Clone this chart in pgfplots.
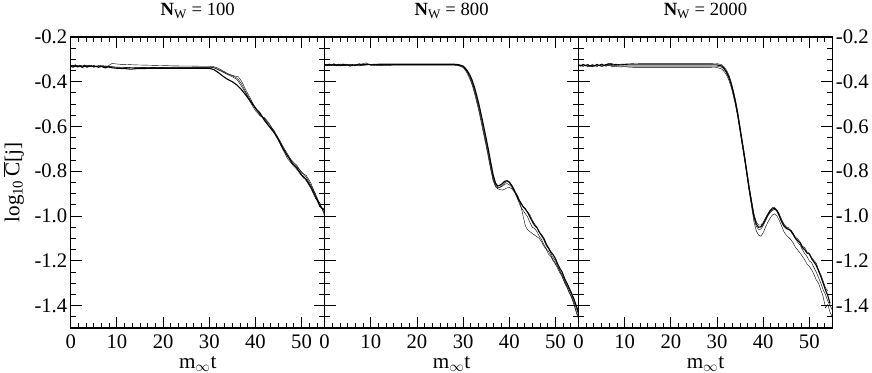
\documentclass[border=0pt]{standalone}
\usepackage{pgfplots}
\pgfplotsset{compat=1.18}
\usepackage{fontspec}
\setmainfont{Liberation Serif}

\pgfplotsset{
  panel/.style={
    scale only axis, width=252pt, height=289pt,
    xmin=0, xmax=55, ymin=-1.5, ymax=-0.2,
    xtick={0,10,20,30,40,50},
    xticklabels={0,10,20,30,40,50},
    minor xtick={1.6667,3.3333,5,6.6667,8.3333,11.6667,13.3333,15,16.6667,18.3333,21.6667,23.3333,25,26.6667,28.3333,31.6667,33.3333,35,36.6667,38.3333,41.6667,43.3333,45,46.6667,48.3333,51.6667,53.3333},
    ytick={-1.4,-1.2,-1.0,-0.8,-0.6,-0.4,-0.2},
    minor ytick={-1.45,-1.35,-1.3,-1.25,-1.15,-1.1,-1.05,-0.95,-0.9,-0.85,-0.75,-0.7,-0.65,-0.55,-0.5,-0.45,-0.35,-0.3,-0.25},
    tick align=inside, tick pos=both,
    major tick length=11pt, minor tick length=5.5pt,
    every tick/.style={black, line width=0.9pt},
    axis line style={line width=1.2pt},
    tick label style={font=\fontsize{20.5}{23}\selectfont},
    xticklabel style={inner sep=1pt, yshift=-5pt},
    label style={font=\fontsize{21}{23}\selectfont},
    every axis title/.style={font=\fontsize{18.5}{20}\selectfont, at={(0.5,1)}, anchor=base, yshift=21pt},
    xlabel={m$_{\infty}$t},
    xlabel style={at={(axis description cs:0.5,0)}, anchor=base, inner sep=1pt, yshift=-40pt},
    cycle list={{black, solid, line width=1.1pt, mark=none}},
  }
}

\begin{document}
\begin{tikzpicture}

% ---------------- N_W = 100 ----------------
\begin{axis}[panel, at={(0pt,0pt)},
  title={\textbf{N}\textsubscript{W} = 100},
  yticklabels={-1.4,-1.2,-1.0,-0.8,-0.6,-0.4,-0.2},
  ylabel={log\textsubscript{10}\,$\overline{\mbox{C}}$[j]},
  ylabel style={at={(axis description cs:-0.225,0.5)}, anchor=center},
]
\addplot coordinates {(0,-0.328)(0.5,-0.331)(1,-0.326)(1.5,-0.333)(2,-0.327)(2.5,-0.332)(3,-0.325)(3.5,-0.331)(4,-0.328)(4.5,-0.334)(5,-0.327)(5.5,-0.332)(6,-0.329)(6.5,-0.335)(7,-0.328)(7.5,-0.333)(8,-0.330)(9,-0.334)(10,-0.336)(11,-0.338)(12,-0.337)(14,-0.338)(16,-0.337)(18,-0.337)(20,-0.336)(22,-0.336)(24,-0.336)(26,-0.336)(28,-0.336)(30,-0.336)(31,-0.338)(32,-0.345)(33,-0.355)(34,-0.365)(35,-0.374)(35.7,-0.38)(36.3,-0.39)(37,-0.41)(38,-0.45)(39,-0.485)(40,-0.515)(41,-0.545)(42,-0.565)(43,-0.592)(44,-0.617)(45,-0.652)(46,-0.69)(47,-0.724)(48,-0.758)(49,-0.779)(50,-0.802)(51,-0.826)(52,-0.862)(53,-0.9)(54,-0.948)(55,-0.99)};
\addplot coordinates {(0,-0.330)(0.5,-0.327)(1,-0.333)(1.5,-0.328)(2,-0.334)(2.5,-0.329)(3,-0.332)(3.5,-0.327)(4,-0.333)(4.5,-0.329)(5,-0.335)(5.5,-0.330)(6,-0.334)(6.5,-0.328)(7,-0.333)(7.5,-0.329)(8,-0.331)(8.5,-0.324)(9,-0.318)(9.5,-0.320)(10,-0.321)(11,-0.323)(12,-0.323)(14,-0.325)(16,-0.326)(18,-0.327)(20,-0.328)(22,-0.329)(24,-0.330)(26,-0.330)(28,-0.331)(30,-0.331)(31,-0.333)(32,-0.340)(33,-0.352)(34,-0.364)(35,-0.372)(35.6,-0.375)(36.3,-0.378)(37,-0.398)(38,-0.44)(39,-0.478)(40,-0.52)(41,-0.553)(42,-0.561)(43,-0.586)(44,-0.622)(45,-0.656)(46,-0.694)(47,-0.733)(48,-0.754)(49,-0.774)(50,-0.808)(51,-0.818)(52,-0.852)(53,-0.905)(54,-0.955)(55,-0.985)};
\addplot coordinates {(0,-0.331)(0.5,-0.335)(1,-0.329)(1.5,-0.334)(2,-0.330)(2.5,-0.336)(3,-0.330)(3.5,-0.335)(4,-0.331)(4.5,-0.329)(5,-0.334)(5.5,-0.331)(6,-0.336)(6.5,-0.330)(7,-0.335)(7.5,-0.338)(8,-0.334)(9,-0.338)(10,-0.340)(11,-0.341)(12,-0.342)(13,-0.344)(14,-0.342)(16,-0.341)(18,-0.340)(20,-0.340)(22,-0.340)(24,-0.340)(26,-0.340)(28,-0.340)(30,-0.340)(31,-0.346)(32,-0.36)(33,-0.376)(34,-0.39)(35,-0.40)(36,-0.415)(37,-0.436)(38,-0.462)(39,-0.49)(40,-0.518)(41,-0.54)(42,-0.574)(43,-0.60)(44,-0.626)(45,-0.66)(46,-0.70)(47,-0.732)(48,-0.765)(49,-0.786)(50,-0.816)(51,-0.836)(52,-0.87)(53,-0.912)(54,-0.958)(55,-0.972)};
\addplot coordinates {(0,-0.326)(0.5,-0.329)(1,-0.324)(1.5,-0.330)(2,-0.326)(2.5,-0.331)(3,-0.327)(3.5,-0.333)(4,-0.326)(4.5,-0.331)(5,-0.328)(5.5,-0.334)(6,-0.327)(6.5,-0.332)(7,-0.329)(7.5,-0.335)(8,-0.331)(9,-0.333)(10,-0.335)(12,-0.336)(14,-0.337)(16,-0.337)(18,-0.336)(20,-0.336)(22,-0.335)(24,-0.335)(26,-0.335)(28,-0.335)(30,-0.335)(31,-0.337)(32,-0.348)(33,-0.358)(34,-0.368)(35,-0.378)(36,-0.39)(37,-0.42)(38,-0.455)(39,-0.495)(40,-0.53)(41,-0.55)(42,-0.568)(43,-0.60)(44,-0.62)(45,-0.662)(46,-0.705)(47,-0.745)(48,-0.77)(49,-0.792)(50,-0.82)(51,-0.842)(52,-0.876)(53,-0.92)(54,-0.942)(55,-1.0)};
\end{axis}

% ---------------- N_W = 800 ----------------
\begin{axis}[panel, at={(252pt,0pt)},
  title={\textbf{N}\textsubscript{W} = 800},
  yticklabels={},
]
\addplot coordinates {(0,-0.325)(0.5,-0.329)(1,-0.323)(1.5,-0.328)(2,-0.324)(2.5,-0.330)(3,-0.325)(3.5,-0.321)(4,-0.327)(4.5,-0.323)(5,-0.329)(5.5,-0.324)(6,-0.330)(6.5,-0.326)(7,-0.322)(7.5,-0.327)(8,-0.321)(8.5,-0.318)(9,-0.316)(9.5,-0.321)(10,-0.327)(11,-0.329)(12,-0.325)(13,-0.323)(14,-0.325)(16,-0.324)(18,-0.324)(20,-0.324)(22,-0.324)(24,-0.324)(26,-0.324)(28,-0.324)(29,-0.326)(30,-0.332)(30.5,-0.343)(31,-0.358)(31.5,-0.378)(32,-0.404)(32.5,-0.438)(33,-0.478)(33.5,-0.52)(34,-0.568)(34.5,-0.618)(35,-0.668)(35.5,-0.72)(36,-0.776)(36.5,-0.828)(37,-0.858)(37.5,-0.872)(38,-0.87)(38.5,-0.862)(39,-0.852)(39.5,-0.846)(40,-0.85)(40.5,-0.866)(41,-0.886)(41.5,-0.91)(42,-0.93)(42.5,-0.945)(43,-0.96)(43.5,-0.972)(44,-0.982)(44.5,-0.995)(45,-1.018)(45.5,-1.035)(46,-1.05)(46.5,-1.07)(47,-1.09)(47.5,-1.108)(48,-1.132)(48.5,-1.145)(49,-1.165)(49.5,-1.185)(50,-1.2)(50.5,-1.222)(51,-1.248)(51.5,-1.262)(52,-1.288)(52.5,-1.31)(53,-1.33)(53.5,-1.352)(54,-1.382)(54.5,-1.41)(55,-1.44)};
\addplot coordinates {(0,-0.327)(0.5,-0.322)(1,-0.328)(1.5,-0.324)(2,-0.329)(2.5,-0.323)(3,-0.328)(3.5,-0.325)(4,-0.330)(4.5,-0.326)(5,-0.322)(5.5,-0.327)(6,-0.323)(6.5,-0.329)(7,-0.325)(7.5,-0.330)(8,-0.326)(9,-0.323)(10,-0.325)(11,-0.326)(12,-0.327)(14,-0.327)(16,-0.326)(18,-0.326)(20,-0.326)(22,-0.326)(24,-0.326)(26,-0.326)(28,-0.326)(29,-0.329)(30,-0.337)(30.5,-0.35)(31,-0.367)(31.5,-0.39)(32,-0.418)(32.5,-0.455)(33,-0.497)(33.5,-0.54)(34,-0.59)(34.5,-0.64)(35,-0.69)(35.5,-0.742)(36,-0.795)(36.5,-0.842)(37,-0.868)(37.5,-0.878)(38,-0.882)(38.5,-0.884)(39,-0.88)(39.5,-0.874)(40,-0.872)(40.5,-0.878)(41,-0.89)(41.5,-0.9)(42,-0.915)(42.5,-0.955)(43,-1.0)(43.5,-1.045)(44,-1.062)(44.5,-1.07)(45,-1.078)(45.5,-1.085)(46,-1.092)(46.5,-1.1)(47,-1.115)(47.5,-1.135)(48,-1.148)(48.5,-1.17)(49,-1.18)(49.5,-1.2)(50,-1.215)(50.5,-1.235)(51,-1.255)(51.5,-1.27)(52,-1.3)(52.5,-1.32)(53,-1.34)(53.5,-1.365)(54,-1.39)(54.5,-1.43)(55,-1.46)};
\addplot coordinates {(0,-0.323)(0.5,-0.327)(1,-0.322)(1.5,-0.326)(2,-0.321)(2.5,-0.327)(3,-0.323)(3.5,-0.328)(4,-0.322)(4.5,-0.327)(5,-0.325)(5.5,-0.330)(6,-0.324)(6.5,-0.328)(7,-0.324)(7.5,-0.321)(8,-0.325)(9,-0.322)(10,-0.324)(11,-0.323)(12,-0.322)(14,-0.322)(16,-0.322)(18,-0.322)(20,-0.322)(22,-0.322)(24,-0.322)(26,-0.322)(28,-0.322)(29,-0.324)(30,-0.330)(30.5,-0.34)(31,-0.354)(31.5,-0.372)(32,-0.396)(32.5,-0.428)(33,-0.466)(33.5,-0.508)(34,-0.555)(34.5,-0.604)(35,-0.654)(35.5,-0.706)(36,-0.762)(36.5,-0.815)(37,-0.852)(37.5,-0.866)(38,-0.862)(38.5,-0.855)(39,-0.845)(39.5,-0.842)(40,-0.848)(40.5,-0.862)(41,-0.88)(41.5,-0.902)(42,-0.925)(42.5,-0.94)(43,-0.958)(43.5,-0.968)(44,-0.985)(44.5,-1.005)(45,-1.025)(45.5,-1.042)(46,-1.052)(46.5,-1.072)(47,-1.085)(47.5,-1.1)(48,-1.125)(48.5,-1.142)(49,-1.16)(49.5,-1.172)(50,-1.19)(50.5,-1.215)(51,-1.235)(51.5,-1.252)(52,-1.28)(52.5,-1.3)(53,-1.322)(53.5,-1.345)(54,-1.37)(54.5,-1.4)(55,-1.43)};
\addplot coordinates {(0,-0.326)(0.5,-0.324)(1,-0.329)(1.5,-0.323)(2,-0.327)(2.5,-0.325)(3,-0.330)(3.5,-0.324)(4,-0.328)(4.5,-0.321)(5,-0.326)(5.5,-0.322)(6,-0.328)(6.5,-0.323)(7,-0.327)(7.5,-0.324)(8,-0.328)(9,-0.326)(10,-0.322)(11,-0.324)(12,-0.326)(14,-0.325)(16,-0.325)(18,-0.325)(20,-0.325)(22,-0.325)(24,-0.325)(26,-0.325)(28,-0.325)(29,-0.327)(30,-0.334)(30.5,-0.346)(31,-0.362)(31.5,-0.384)(32,-0.411)(32.5,-0.447)(33,-0.488)(33.5,-0.53)(34,-0.58)(34.5,-0.63)(35,-0.68)(35.5,-0.732)(36,-0.788)(36.5,-0.836)(37,-0.865)(37.5,-0.875)(38,-0.872)(38.5,-0.866)(39,-0.858)(39.5,-0.855)(40,-0.86)(40.5,-0.87)(41,-0.885)(41.5,-0.905)(42,-0.935)(42.5,-0.96)(43,-0.975)(43.5,-0.99)(44,-1.005)(44.5,-1.03)(45,-1.05)(45.5,-1.055)(46,-1.07)(46.5,-1.09)(47,-1.105)(47.5,-1.128)(48,-1.145)(48.5,-1.158)(49,-1.175)(49.5,-1.195)(50,-1.21)(50.5,-1.228)(51,-1.245)(51.5,-1.275)(52,-1.295)(52.5,-1.315)(53,-1.345)(53.5,-1.36)(54,-1.395)(54.5,-1.425)(55,-1.45)};
\end{axis}

% ---------------- N_W = 2000 ----------------
\begin{axis}[panel, at={(504pt,0pt)},
  title={\textbf{N}\textsubscript{W} = 2000},
  yticklabel pos=right,
  yticklabels={-1.4,-1.2,-1.0,-0.8,-0.6,-0.4,-0.2},
]
\addplot coordinates {(0,-0.327)(0.5,-0.331)(1,-0.325)(1.5,-0.330)(2,-0.326)(2.5,-0.332)(3,-0.327)(3.5,-0.331)(4,-0.325)(4.5,-0.329)(5,-0.324)(5.5,-0.328)(6,-0.322)(6.5,-0.325)(7,-0.318)(7.5,-0.321)(8,-0.324)(9,-0.322)(10,-0.321)(11,-0.320)(12,-0.319)(14,-0.318)(16,-0.318)(18,-0.318)(20,-0.318)(22,-0.318)(24,-0.318)(26,-0.318)(28,-0.318)(30,-0.319)(31,-0.324)(31.5,-0.333)(32,-0.346)(32.5,-0.366)(33,-0.395)(33.5,-0.435)(34,-0.48)(34.5,-0.535)(35,-0.6)(35.5,-0.665)(36,-0.73)(36.5,-0.8)(37,-0.87)(37.5,-0.93)(38,-0.99)(38.5,-1.025)(39,-1.04)(39.5,-1.04)(40,-1.028)(40.5,-1.008)(41,-0.99)(41.5,-0.972)(42,-0.962)(42.5,-0.962)(43,-0.972)(43.5,-0.995)(44,-1.02)(44.5,-1.04)(45,-1.05)(45.5,-1.058)(46,-1.062)(46.5,-1.078)(47,-1.095)(47.5,-1.102)(48,-1.115)(48.5,-1.135)(49,-1.14)(49.5,-1.16)(50,-1.165)(50.5,-1.185)(51,-1.198)(51.5,-1.21)(52,-1.24)(52.5,-1.262)(53,-1.29)(53.5,-1.32)(54,-1.335)};
\addplot coordinates {(0,-0.329)(0.5,-0.325)(1,-0.331)(1.5,-0.327)(2,-0.333)(2.5,-0.328)(3,-0.334)(3.5,-0.328)(4,-0.332)(4.5,-0.327)(5,-0.333)(5.5,-0.329)(6,-0.331)(6.5,-0.327)(7,-0.330)(7.5,-0.334)(8,-0.331)(9,-0.334)(10,-0.333)(11,-0.335)(12,-0.336)(14,-0.336)(16,-0.336)(18,-0.336)(20,-0.336)(22,-0.336)(24,-0.336)(26,-0.336)(28,-0.336)(30,-0.337)(31,-0.343)(31.5,-0.353)(32,-0.368)(32.5,-0.39)(33,-0.42)(33.5,-0.46)(34,-0.505)(34.5,-0.56)(35,-0.625)(35.5,-0.69)(36,-0.755)(36.5,-0.825)(37,-0.895)(37.5,-0.96)(38,-1.025)(38.5,-1.065)(39,-1.085)(39.5,-1.09)(40,-1.075)(40.5,-1.05)(41,-1.028)(41.5,-1.01)(42,-0.995)(42.5,-0.99)(43,-1.0)(43.5,-1.02)(44,-1.045)(44.5,-1.07)(45,-1.085)(45.5,-1.095)(46,-1.105)(46.5,-1.12)(47,-1.14)(47.5,-1.152)(48,-1.165)(48.5,-1.18)(49,-1.195)(49.5,-1.215)(50,-1.225)(50.5,-1.24)(51,-1.26)(51.5,-1.285)(52,-1.3)(52.5,-1.33)(53,-1.36)(53.5,-1.41)(54,-1.395)(54.5,-1.43)(55,-1.45)};
\addplot coordinates {(0,-0.325)(0.5,-0.329)(1,-0.323)(1.5,-0.328)(2,-0.324)(2.5,-0.330)(3,-0.325)(3.5,-0.329)(4,-0.323)(4.5,-0.328)(5,-0.322)(5.5,-0.327)(6,-0.324)(6.5,-0.320)(7,-0.322)(7.5,-0.326)(8,-0.323)(9,-0.325)(10,-0.324)(11,-0.325)(12,-0.325)(14,-0.325)(16,-0.325)(18,-0.325)(20,-0.325)(22,-0.325)(24,-0.325)(26,-0.325)(28,-0.325)(30,-0.325)(31,-0.33)(31.5,-0.34)(32,-0.355)(32.5,-0.375)(33,-0.405)(33.5,-0.445)(34,-0.49)(34.5,-0.545)(35,-0.61)(35.5,-0.675)(36,-0.74)(36.5,-0.81)(37,-0.88)(37.5,-0.94)(38,-1.0)(38.5,-1.035)(39,-1.05)(39.5,-1.048)(40,-1.035)(40.5,-1.015)(41,-0.995)(41.5,-0.978)(42,-0.968)(42.5,-0.966)(43,-0.978)(43.5,-1.0)(44,-1.025)(44.5,-1.045)(45,-1.055)(45.5,-1.06)(46,-1.065)(46.5,-1.08)(47,-1.1)(47.5,-1.11)(48,-1.12)(48.5,-1.14)(49,-1.15)(49.5,-1.165)(50,-1.17)(50.5,-1.19)(51,-1.205)(51.5,-1.22)(52,-1.245)(52.5,-1.27)(53,-1.3)(53.5,-1.33)(54,-1.355)(54.5,-1.39)};
\addplot coordinates {(0,-0.330)(0.5,-0.327)(1,-0.332)(1.5,-0.326)(2,-0.331)(2.5,-0.327)(3,-0.333)(3.5,-0.326)(4,-0.331)(4.5,-0.325)(5,-0.330)(5.5,-0.326)(6,-0.329)(6.5,-0.324)(7,-0.327)(7.5,-0.331)(8,-0.328)(9,-0.330)(10,-0.331)(11,-0.331)(12,-0.331)(14,-0.331)(16,-0.331)(18,-0.331)(20,-0.331)(22,-0.331)(24,-0.331)(26,-0.331)(28,-0.331)(30,-0.331)(31,-0.335)(31.5,-0.344)(32,-0.358)(32.5,-0.38)(33,-0.41)(33.5,-0.45)(34,-0.497)(34.5,-0.552)(35,-0.618)(35.5,-0.684)(36,-0.75)(36.5,-0.818)(37,-0.888)(37.5,-0.95)(38,-1.01)(38.5,-1.045)(39,-1.06)(39.5,-1.058)(40,-1.043)(40.5,-1.022)(41,-1.0)(41.5,-0.985)(42,-0.975)(42.5,-0.97)(43,-0.974)(43.5,-0.99)(44,-1.015)(44.5,-1.035)(45,-1.048)(45.5,-1.052)(46,-1.07)(46.5,-1.085)(47,-1.1)(47.5,-1.118)(48,-1.13)(48.5,-1.15)(49,-1.168)(49.5,-1.18)(50,-1.2)(50.5,-1.208)(51,-1.23)(51.5,-1.25)(52,-1.275)(52.5,-1.3)(53,-1.33)(53.5,-1.35)(54,-1.38)(54.5,-1.4)(55,-1.42)};
\end{axis}

\end{tikzpicture}
\end{document}
